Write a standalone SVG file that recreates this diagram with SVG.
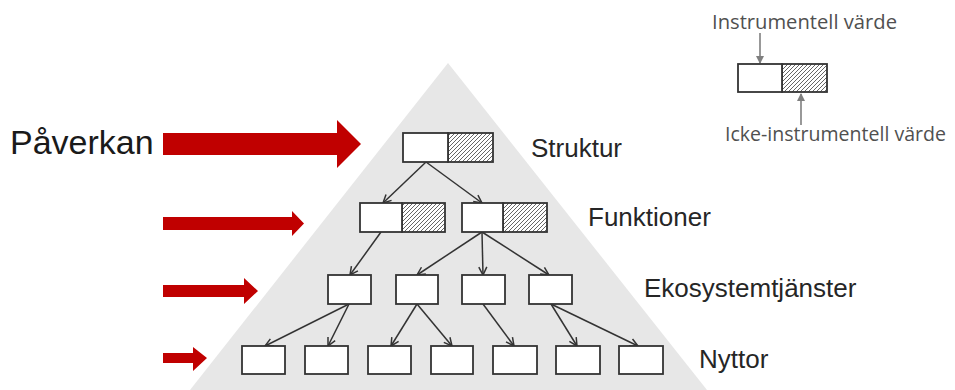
<svg xmlns="http://www.w3.org/2000/svg" width="955" height="390" viewBox="0 0 955 390">
  <style>
    .box { fill: #ffffff; stroke: #333333; stroke-width: 1.8; }
    .hatch { fill: url(#diag); stroke: #333333; stroke-width: 1.8; }
    .edge { fill: none; stroke: #333333; stroke-width: 1.5; marker-end: url(#open); }
    .level { font-family: "Liberation Sans", Arial, sans-serif; font-size: 26px; fill: #262626; }
    .legend { font-family: "Open Sans", "Liberation Sans", sans-serif; font-size: 19.5px; fill: #505050; }
    .impact { fill: #c00000; }
    .pointer { fill: none; stroke: #7f7f7f; stroke-width: 1.6; marker-end: url(#solid); }
  </style>
  <defs>
    <pattern id="diag" patternUnits="userSpaceOnUse" width="4" height="4">
      <rect width="4" height="4" fill="#ffffff"/>
      <path d="M-1,1 L1,-1 M0,4 L4,0 M3,5 L5,3" stroke="#555555" stroke-width="0.9"/>
    </pattern>
    <marker id="open" markerUnits="userSpaceOnUse" markerWidth="12" markerHeight="12" refX="9" refY="5" orient="auto">
      <path d="M1,1 L9,5 L1,9" fill="none" stroke="#333333" stroke-width="1.5"/>
    </marker>
    <marker id="solid" markerUnits="userSpaceOnUse" markerWidth="10" markerHeight="10" refX="7" refY="4" orient="auto">
      <path d="M0,0 L8,4 L0,8 Z" fill="#7f7f7f"/>
    </marker>
  </defs>

  <!-- background pyramid -->
  <polygon points="448,63 190,390 707,390" fill="#e7e7e7"/>

  <!-- impact arrows -->
  <g id="impact">
    <text x="10" y="154" font-family="Liberation Sans, Arial, sans-serif" font-size="34" fill="#1a1a1a">Påverkan</text>
    <polygon class="impact" points="163,133 337,133 337,120 361,144 337,168 337,155 163,155"/>
    <polygon class="impact" points="163,217 292,217 292,211 304,223.5 292,236 292,230 163,230"/>
    <polygon class="impact" points="163,285 244,285 244,278 258,291 244,304 244,297 163,297"/>
    <polygon class="impact" points="163,353 193,353 193,347 207,358 193,371 193,363 163,363"/>
  </g>

  <!-- level labels -->
  <text class="level" x="531" y="157">Struktur</text>
  <text class="level" x="588" y="226">Funktioner</text>
  <text class="level" x="644" y="297">Ekosystemtjänster</text>
  <text class="level" x="699" y="368">Nyttor</text>

  <!-- connectors -->
  <g id="connectors">
    <path class="edge" d="M426,162 L383,203"/>
    <path class="edge" d="M426,162 L482,203"/>
    <path class="edge" d="M381,232 L350,275"/>
    <path class="edge" d="M482,232 L417,275"/>
    <path class="edge" d="M482,232 L483,275"/>
    <path class="edge" d="M482,232 L549,275"/>
    <path class="edge" d="M349,304 L265,346"/>
    <path class="edge" d="M349,304 L328,346"/>
    <path class="edge" d="M417,304 L391,346"/>
    <path class="edge" d="M417,304 L452,346"/>
    <path class="edge" d="M483,304 L514,346"/>
    <path class="edge" d="M551,304 L577,346"/>
    <path class="edge" d="M551,304 L638,346"/>
  </g>

  <!-- structure -->
  <g id="struktur">
    <rect class="hatch" x="448" y="133" width="45" height="29"/>
    <rect class="box" x="403" y="133" width="45" height="29"/>
  </g>

  <!-- functions -->
  <g id="funktion-1">
    <rect class="hatch" x="402" y="203" width="43" height="29"/>
    <rect class="box" x="360" y="203" width="42" height="29"/>
  </g>
  <g id="funktion-2">
    <rect class="hatch" x="503" y="203" width="44" height="29"/>
    <rect class="box" x="462" y="203" width="41" height="29"/>
  </g>

  <!-- ecosystem services -->
  <g id="tjanst-1"><rect class="box" x="328" y="275" width="43" height="29"/></g>
  <g id="tjanst-2"><rect class="box" x="396" y="275" width="42" height="29"/></g>
  <g id="tjanst-3"><rect class="box" x="462" y="275" width="43" height="29"/></g>
  <g id="tjanst-4"><rect class="box" x="529" y="275" width="43" height="29"/></g>

  <!-- benefits -->
  <g id="nytta-1"><rect class="box" x="242" y="346" width="43" height="28"/></g>
  <g id="nytta-2"><rect class="box" x="305" y="346" width="43" height="28"/></g>
  <g id="nytta-3"><rect class="box" x="368" y="346" width="43" height="28"/></g>
  <g id="nytta-4"><rect class="box" x="431" y="346" width="42" height="28"/></g>
  <g id="nytta-5"><rect class="box" x="493" y="346" width="44" height="28"/></g>
  <g id="nytta-6"><rect class="box" x="556" y="346" width="44" height="28"/></g>
  <g id="nytta-7"><rect class="box" x="619" y="346" width="44" height="28"/></g>

  <!-- legend -->
  <g id="legend">
    <text class="legend" x="712" y="29" textLength="185" lengthAdjust="spacingAndGlyphs">Instrumentell värde</text>
    <path class="pointer" d="M760,33 L760,63"/>
    <rect class="hatch" x="782" y="64" width="45" height="28" stroke="#1a1a1a" stroke-width="2"/>
    <rect class="box" x="738" y="64" width="44" height="28" stroke="#1a1a1a" stroke-width="2"/>
    <path class="pointer" d="M801,125 L801,94"/>
    <text class="legend" x="725" y="141" textLength="221" lengthAdjust="spacingAndGlyphs">Icke-instrumentell värde</text>
  </g>
</svg>
